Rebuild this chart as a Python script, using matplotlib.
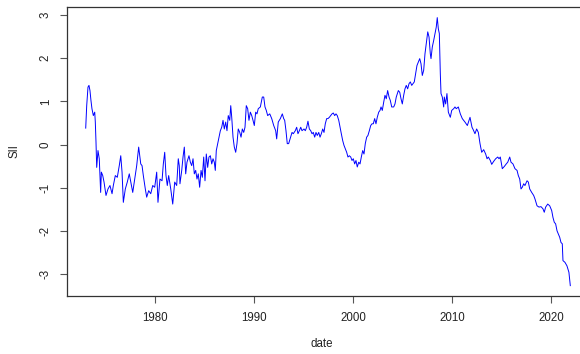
import matplotlib
matplotlib.use("Agg")
import matplotlib.pyplot as plt

# SII index, sampled by year fraction
years = [
    1972.97, 1973.07, 1973.20, 1973.30, 1973.40, 1973.50, 1973.60, 1973.74, 1973.88, 1973.94,
    1974.01, 1974.08, 1974.21, 1974.34, 1974.48, 1974.55, 1974.69, 1974.82, 1975.02, 1975.22,
    1975.42, 1975.63, 1975.76, 1975.96, 1976.16, 1976.36, 1976.51, 1976.64, 1976.77, 1976.97,
    1977.17, 1977.37, 1977.52, 1977.72, 1977.92, 1978.12, 1978.32, 1978.53, 1978.66, 1978.79,
    1978.99, 1979.13, 1979.33, 1979.54, 1979.74, 1979.94, 1980.14, 1980.27, 1980.47, 1980.68,
    1980.81, 1980.95, 1981.08, 1981.21, 1981.35, 1981.56, 1981.76, 1981.96, 1982.16, 1982.32,
    1982.42, 1982.49, 1982.67, 1982.80, 1982.93, 1983.07, 1983.20, 1983.40, 1983.54, 1983.68,
    1983.81, 1983.94, 1984.08, 1984.21, 1984.34, 1984.48, 1984.62, 1984.75, 1984.89, 1985.02,
    1985.15, 1985.29, 1985.42, 1985.56, 1985.70, 1985.83, 1985.96, 1986.06, 1986.16, 1986.30,
    1986.43, 1986.57, 1986.71, 1986.84, 1986.97, 1987.11, 1987.24, 1987.37, 1987.52, 1987.62,
    1987.72, 1987.85, 1987.98, 1988.12, 1988.25, 1988.38, 1988.53, 1988.66, 1988.79, 1988.93,
    1989.06, 1989.19, 1989.33, 1989.46, 1989.60, 1989.74, 1989.87, 1990.00, 1990.14, 1990.27,
    1990.40, 1990.61, 1990.81, 1990.95, 1991.08, 1991.21, 1991.35, 1991.56, 1991.76, 1991.96,
    1992.16, 1992.26, 1992.42, 1992.63, 1992.83, 1992.97, 1993.07, 1993.20, 1993.33, 1993.47,
    1993.61, 1993.81, 1993.94, 1994.14, 1994.28, 1994.41, 1994.55, 1994.69, 1994.82, 1995.02,
    1995.15, 1995.29, 1995.42, 1995.56, 1995.70, 1995.83, 1995.96, 1996.10, 1996.23, 1996.36,
    1996.51, 1996.64, 1996.77, 1996.91, 1997.04, 1997.17, 1997.31, 1997.44, 1997.58, 1997.72,
    1997.85, 1997.98, 1998.12, 1998.25, 1998.38, 1998.53, 1998.66, 1998.79, 1998.93, 1999.06,
    1999.19, 1999.33, 1999.46, 1999.60, 1999.74, 1999.87, 2000.00, 2000.14, 2000.27, 2000.40,
    2000.55, 2000.68, 2000.81, 2000.95, 2001.08, 2001.21, 2001.35, 2001.48, 2001.62, 2001.76,
    2001.89, 2002.02, 2002.16, 2002.29, 2002.42, 2002.57, 2002.70, 2002.80, 2002.93, 2003.07,
    2003.20, 2003.33, 2003.47, 2003.61, 2003.74, 2003.88, 2004.08, 2004.21, 2004.34, 2004.55,
    2004.69, 2004.82, 2004.95, 2005.09, 2005.22, 2005.35, 2005.49, 2005.63, 2005.76, 2005.90,
    2006.03, 2006.16, 2006.30, 2006.43, 2006.57, 2006.71, 2006.84, 2006.97, 2007.11, 2007.24,
    2007.37, 2007.52, 2007.65, 2007.78, 2007.85, 2007.98, 2008.12, 2008.25, 2008.38, 2008.48,
    2008.59, 2008.69, 2008.79, 2008.86, 2008.99, 2009.13, 2009.19, 2009.33, 2009.46, 2009.60,
    2009.80, 2009.94, 2010.14, 2010.27, 2010.40, 2010.61, 2010.81, 2011.01, 2011.28, 2011.52,
    2011.79, 2011.99, 2012.12, 2012.29, 2012.46, 2012.63, 2012.80, 2012.97, 2013.17, 2013.37,
    2013.51, 2013.64, 2013.84, 2013.98, 2014.18, 2014.38, 2014.59, 2014.72, 2014.85, 2015.05,
    2015.25, 2015.45, 2015.60, 2015.80, 2015.93, 2016.13, 2016.33, 2016.54, 2016.67, 2016.81,
    2016.94, 2017.07, 2017.21, 2017.34, 2017.55, 2017.68, 2017.82, 2018.02, 2018.22, 2018.35,
    2018.56, 2018.76, 2018.96, 2019.16, 2019.29, 2019.43, 2019.64, 2019.84, 2020.04, 2020.17,
    2020.30, 2020.44, 2020.58, 2020.71, 2020.85, 2020.98, 2021.11, 2021.18, 2021.38, 2021.58,
    2021.78, 2021.92,
]
sii = [
    0.38, 0.90, 1.33, 1.37, 1.25, 1.02, 0.83, 0.67, 0.75, 0.52,
    0.05, -0.53, -0.14, -0.33, -1.11, -0.64, -0.72, -0.87, -1.18, -1.03,
    -0.95, -1.14, -0.95, -0.72, -0.76, -0.49, -0.26, -0.64, -1.34, -1.03,
    -0.87, -0.68, -0.87, -1.11, -0.80, -0.49, -0.06, -0.45, -0.49, -0.72,
    -1.03, -1.22, -1.07, -1.14, -0.95, -0.99, -0.64, -1.34, -0.80, -0.84,
    -0.45, -0.18, -0.72, -0.95, -0.72, -1.03, -1.38, -0.87, -0.95, -0.33,
    -0.49, -0.91, -0.60, -0.29, -0.06, -0.68, -0.41, -0.26, -0.41, -0.49,
    -0.33, -0.68, -0.60, -0.80, -0.68, -0.99, -0.60, -0.76, -0.29, -0.84,
    -0.22, -0.53, -0.29, -0.26, -0.45, -0.33, -0.41, -0.60, -0.14, 0.02,
    0.17, 0.32, 0.40, 0.56, 0.36, 0.52, 0.32, 0.67, 0.56, 0.90,
    0.63, 0.17, -0.06, -0.18, 0.02, 0.36, 0.28, 0.17, 0.36, 0.28,
    0.40, 0.90, 0.83, 0.56, 0.75, 0.67, 0.56, 0.44, 0.75, 0.71,
    0.83, 0.87, 1.10, 1.10, 0.87, 0.79, 0.67, 0.71, 0.60, 0.44,
    0.32, 0.13, 0.52, 0.60, 0.71, 0.60, 0.56, 0.32, 0.02, 0.02,
    0.13, 0.28, 0.25, 0.32, 0.40, 0.25, 0.32, 0.40, 0.32, 0.36,
    0.32, 0.40, 0.54, 0.36, 0.32, 0.25, 0.28, 0.17, 0.28, 0.21,
    0.28, 0.17, 0.25, 0.36, 0.28, 0.48, 0.60, 0.60, 0.63, 0.67,
    0.71, 0.73, 0.67, 0.71, 0.67, 0.56, 0.40, 0.25, 0.09, -0.02,
    -0.10, -0.18, -0.29, -0.26, -0.29, -0.37, -0.33, -0.45, -0.37, -0.52,
    -0.41, -0.45, -0.29, -0.14, -0.22, 0.02, 0.17, 0.21, 0.32, 0.44,
    0.48, 0.48, 0.60, 0.48, 0.63, 0.75, 0.79, 0.87, 0.79, 0.98,
    1.14, 1.06, 1.25, 1.10, 1.02, 0.87, 0.87, 0.94, 1.10, 1.25,
    1.21, 1.06, 0.94, 1.14, 1.29, 1.37, 1.29, 1.41, 1.45, 1.37,
    1.41, 1.45, 1.64, 1.83, 1.91, 1.99, 1.87, 1.60, 1.72, 2.10,
    2.34, 2.61, 2.49, 2.10, 1.99, 2.26, 2.41, 2.57, 2.72, 2.94,
    2.68, 2.57, 1.64, 1.18, 1.10, 0.87, 1.10, 0.94, 1.18, 0.75,
    0.63, 0.79, 0.83, 0.87, 0.83, 0.87, 0.71, 0.60, 0.52, 0.44,
    0.63, 0.40, 0.34, 0.25, 0.36, 0.28, 0.02, -0.18, -0.12, -0.22,
    -0.33, -0.29, -0.37, -0.46, -0.39, -0.33, -0.29, -0.33, -0.29, -0.56,
    -0.51, -0.45, -0.41, -0.29, -0.41, -0.45, -0.56, -0.60, -0.72, -0.80,
    -1.03, -0.99, -0.91, -0.95, -0.84, -0.87, -1.03, -1.11, -1.18, -1.26,
    -1.42, -1.45, -1.44, -1.49, -1.57, -1.45, -1.38, -1.42, -1.53, -1.69,
    -1.80, -1.84, -2.00, -2.07, -2.15, -2.27, -2.30, -2.69, -2.73, -2.81,
    -2.96, -3.27,
]
xticks = [1980, 1990, 2000, 2010, 2020]
yticks = [-3, -2, -1, 0, 1, 2, 3]

plt.rcParams["font.family"] = ["Liberation Sans", "DejaVu Sans"]

fig = plt.figure(figsize=(5.8, 3.54), dpi=100)
# plot region runs a little past the right edge of the image
ax = fig.add_axes([67 / 580, 58 / 354, 523 / 580, 289 / 354])
ax.plot(years, sii, color="#0000ff", lw=0.7)

ax.set_xlim(1971.08, 2023.91)
ax.set_ylim(-3.51, 3.186)
ax.set_xticks(xticks)
ax.set_yticks(yticks)
ax.set_yticklabels([str(v) for v in yticks], rotation=90, va="center")

for s in ax.spines.values():
    s.set_color("#333333")
    s.set_linewidth(0.9)
ax.tick_params(direction="out", length=5, width=0.8, color="#555555",
               labelsize=8.3, labelcolor="#222222")
ax.tick_params(axis="x", pad=6.5)
ax.tick_params(axis="y", pad=6)

ax.set_xlabel("date", fontsize=8.3, color="#222222")
ax.set_ylabel("SII", fontsize=8.3, color="#222222")
ax.xaxis.set_label_coords((322 - 67) / 523, -42 / 289)
ax.yaxis.set_label_coords(-47 / 523, 0.5)

fig.savefig("out.png", dpi=100)
